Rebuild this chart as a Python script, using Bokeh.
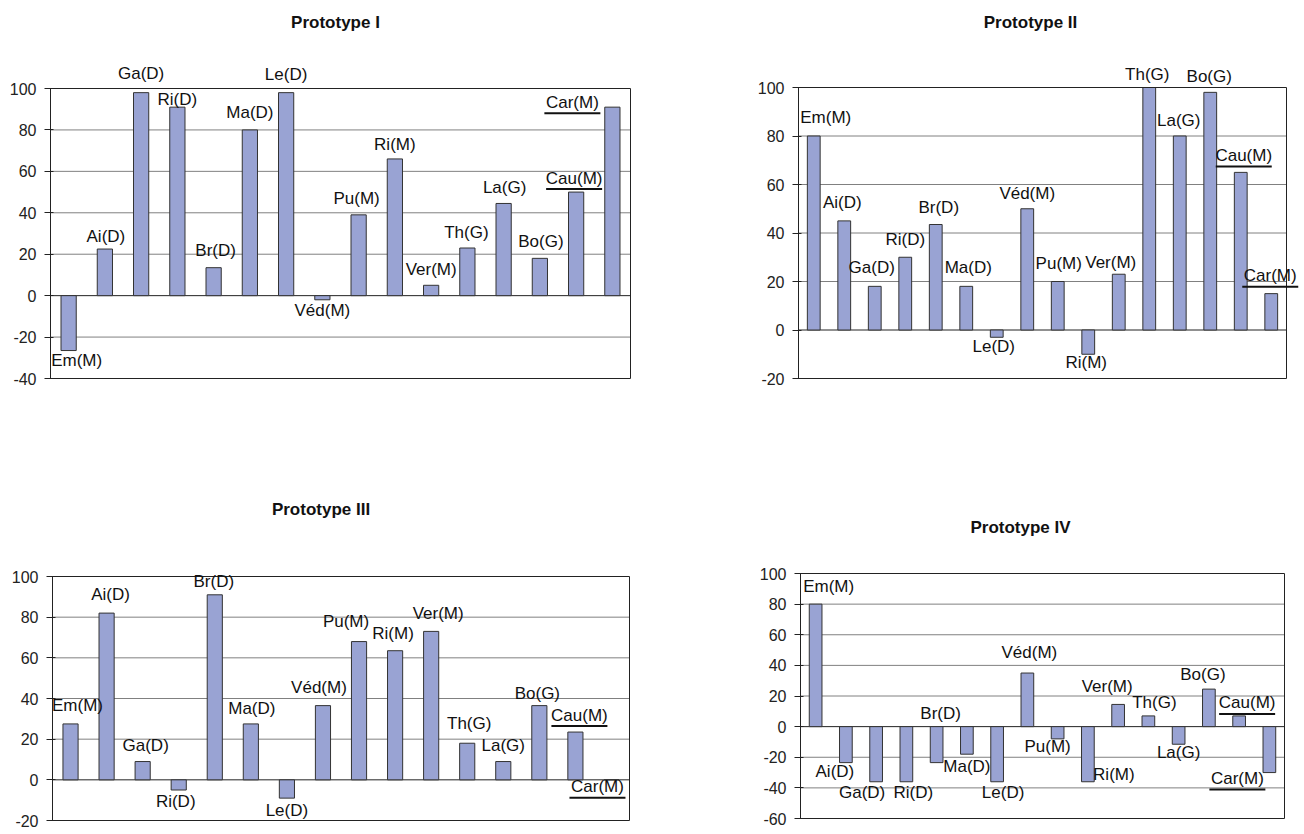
from bokeh.plotting import figure
from bokeh.models import Range1d, ColumnDataSource, LabelSet, Label, FixedTicker
from bokeh.layouts import column, row
from bokeh.core.properties import value
from bokeh.embed import file_html
from bokeh.resources import INLINE

# ---------------- data ----------------
categories = ["Em(M)", "Ai(D)", "Ga(D)", "Ri(D)", "Br(D)", "Ma(D)", "Le(D)", "Véd(M)",
              "Pu(M)", "Ri(M)", "Ver(M)", "Th(G)", "La(G)", "Bo(G)", "Cau(M)", "Car(M)"]
underlined = ["Cau(M)", "Car(M)"]
titles = ["Prototype I", "Prototype II", "Prototype III", "Prototype IV"]

proto1 = [-26.5, 22.5, 98, 91, 13.5, 80, 98, -2, 39, 66, 5, 23, 44.5, 18, 50, 91]
proto2 = [80, 45, 18, 30, 43.5, 18, -3, 50, 20, -10, 23, 100, 80, 98, 65, 15]
proto3 = [27.5, 82, 9, -5, 91, 27.5, -9, 36.5, 68, 63.5, 73, 18, 9, 36.5, 23.5, 0]
proto4 = [80, -23.5, -36, -36, -23.5, -18, -36, 35, -8, -36, 14.5, 7, -11.5, 24.5, 7, -30]

y_min = [-40, -20, -20, -60]
y_max = 100
tick_step = 20

# ---------------- label placement (pixels, relative to bar end) ----------------
offs1 = [(8, -10), (1, 13), (0, 19), (0, 8), (2, 17), (0, 17), (0, 18), (0, -11),
         (-2, 16), (0, 14), (0, 16), (-1, 16), (1, 16), (1, 17), (-2, 14), (-40, 5)]
offs2 = [(12, 19), (-2, 18), (-3, 19), (0, 18), (3, 17), (2, 19), (-3, -9), (0, 15),
         (1, 18), (-2, -8), (-8, 12), (-2, 13), (-1, 16), (-1, 16), (3, 17), (-1, 18)]
offs3 = [(7, 18), (4, 19), (3, 16), (-3, -11), (-1, 13), (1, 15), (0, -12), (-4, 18),
         (-13, 20), (-2, 17), (7, 18), (2, 20), (0, 16), (-2, 12), (4, 17), (-14, -7)]
offs4 = [(13, 18), (-11, -9), (-14, -11), (7, -11), (4, 49), (0, -12), (6, -11), (2, 21),
         (-10, -8), (26, 7), (-11, 18), (6, 13), (0, -8), (-6, 15), (8, 13), (-32, -6)]

BAR_FILL = "#99A3D3"
BAR_LINE = "#333333"
FONT = "Liberation Sans"


def make_panel(title, vals, offs, ymin, width, height, box, title_dx, title_dy):
    """box = (left, right, top, bottom) of the plot box in figure pixels."""
    bl, br, bt, bb = box
    n = len(categories)
    ppx = (br - bl) / n
    ppy = (bb - bt) / (y_max - ymin)
    x_start = -0.5
    x_end = -0.5 + (width - bl) / ppx
    y_end = y_max + bt / ppy
    y_start = ymin - (height - bb) / ppy

    p = figure(width=width, height=height,
               x_range=Range1d(x_start, x_end), y_range=Range1d(y_start, y_end),
               output_backend="svg", toolbar_location=None,
               x_axis_location=None,
               min_border_left=bl, min_border_right=0,
               min_border_top=0, min_border_bottom=0)
    p.background_fill_color = "white"
    p.border_fill_color = "white"
    p.outline_line_color = None
    p.xgrid.visible = False
    p.ygrid.visible = False

    ticks = list(range(ymin, y_max + 1, tick_step))
    ax = p.yaxis[0]
    ax.ticker = FixedTicker(ticks=ticks)
    ax.major_label_overrides = {t: str(t) for t in ticks}
    ax.bounds = (ymin, y_max)
    ax.axis_line_color = "#222222"
    ax.major_tick_line_color = "#222222"
    ax.major_tick_out = 6
    ax.major_tick_in = 3
    ax.minor_tick_line_color = None
    ax.major_label_text_font = FONT
    ax.major_label_text_font_size = "16px"
    ax.major_label_text_color = "#222222"
    ax.major_label_standoff = 8

    # horizontal grid lines inside the plot box
    grid_ticks = [t for t in ticks if t not in (ymin, y_max, 0)]
    p.segment(x0=[-0.5] * len(grid_ticks), x1=[n - 0.5] * len(grid_ticks),
              y0=grid_ticks, y1=grid_ticks, line_color="#808080", line_width=1)
    # zero line
    p.segment(x0=[-0.5], x1=[n - 0.5], y0=[0], y1=[0], line_color="#222222", line_width=1)

    xs = list(range(n))
    src = ColumnDataSource(dict(
        x=xs, top=vals, name=categories,
        dx=[o[0] for o in offs], dy=[o[1] for o in offs]))

    p.vbar(x="x", top="top", bottom=0, width=0.42, source=src,
           fill_color=BAR_FILL, line_color=BAR_LINE, line_width=1)

    # plot box outline
    p.quad(left=[-0.5], right=[n - 0.5], bottom=[ymin], top=[y_max],
           fill_color=None, line_color="#222222", line_width=1)

    labels = LabelSet(x="x", y="top", text="name", x_offset="dx", y_offset="dy",
                      source=src, text_font=value(FONT), text_font_size="17px",
                      text_color="#111111", text_align="center", text_baseline="middle")
    p.add_layout(labels)

    # underlines below the highlighted labels
    x0, x1, yy = [], [], []
    for i, c in enumerate(categories):
        if c in underlined:
            dx, dy = offs[i]
            x0.append(i + (dx - 28) / ppx)
            x1.append(i + (dx + 28) / ppx)
            yy.append(vals[i] + (dy - 11) / ppy)
    p.segment(x0=x0, y0=yy, x1=x1, y1=yy, line_color="#111111", line_width=2)

    p.add_layout(Label(x=(n - 1) / 2, y=y_max, x_offset=title_dx, y_offset=title_dy,
                       text=title, text_font=FONT, text_font_style="bold",
                       text_font_size="17px", text_color="#111111",
                       text_align="center", text_baseline="middle"))
    return p


p1 = make_panel(titles[0], proto1, offs1, y_min[0], 688, 470, (50, 630, 88, 378), -5, 66)
p2 = make_panel(titles[1], proto2, offs2, y_min[1], 612, 470, (110, 598, 87, 378), -12, 65)
p3 = make_panel(titles[2], proto3, offs3, y_min[2], 688, 360, (52, 629, 106, 350), -20, 67)
p4 = make_panel(titles[3], proto4, offs4, y_min[3], 612, 360, (112, 596, 103, 348), -22, 46)

layout = column(row(p1, p2), row(p3, p4))

open("out.html", "w").write(file_html(layout, INLINE))
